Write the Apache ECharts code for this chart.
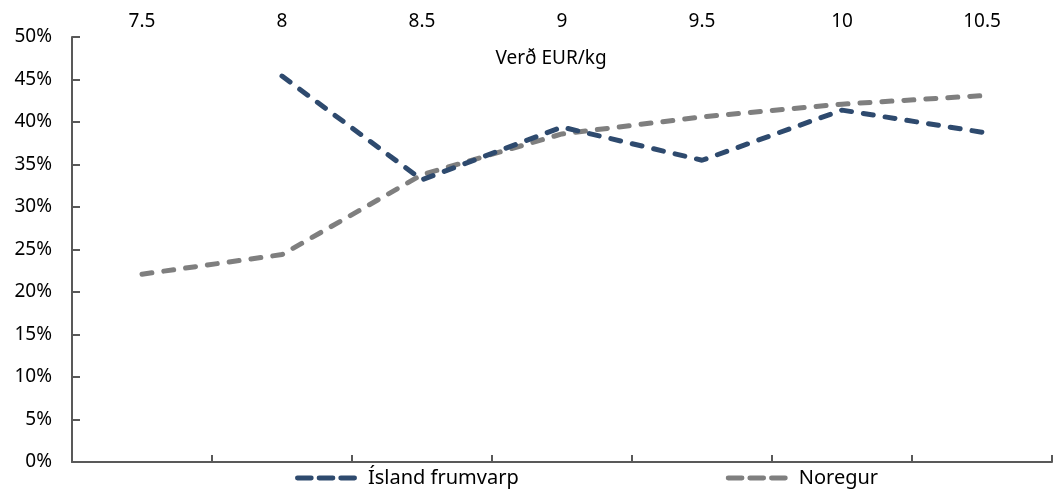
<!DOCTYPE html>
<html>
<head>
<meta charset="utf-8">
<script src="https://cdn.jsdelivr.net/npm/echarts@6/dist/echarts.min.js"></script>
<style>
  html, body { margin: 0; padding: 0; background: #fff; }
  #chart { width: 1057px; height: 489px; }
</style>
</head>
<body>
<div id="chart"></div>
<script>
// verð EUR/kg
const categories = ["7.5", "8", "8.5", "9", "9.5", "10", "10.5"];
// hlutfall í %
const islandValues = [null, 45.4, 33.2, 39.4, 35.5, 41.4, 38.8];
const noregurValues = [22.1, 24.4, 33.8, 38.6, 40.6, 42.1, 43.1];
const yTicks = { min: 0, max: 50, interval: 5 };

const fontFam = "Noto Sans";
const axisColor = "#595959";
// þrjú strik í skýringu
const dashIcon = "path://M2,0H16A2,2 0 0 1 16,5H2A2,2 0 0 1 2,0Z M24,0H38A2,2 0 0 1 38,5H24A2,2 0 0 1 24,0Z M46,0H60A2,2 0 0 1 60,5H46A2,2 0 0 1 46,0Z";

const myChart = echarts.init(document.getElementById("chart"));
myChart.setOption({
  animation: false,
  title: {
    text: "Verð EUR/kg",
    left: 546,
    top: 44,
    textAlign: "center",
    textStyle: { fontFamily: fontFam, fontSize: 19, fontWeight: "normal", color: "#000" },
  },
  legend: {
    bottom: -4,
    left: 290,
    itemGap: 207,
    itemWidth: 62,
    itemHeight: 5,
    textStyle: { fontFamily: fontFam, fontSize: 20, color: "#000", padding: [0, 0, 0, 6] },
    data: [
      { name: "Ísland frumvarp", icon: dashIcon },
      { name: "Noregur", icon: dashIcon },
    ],
  },
  grid: { left: 72, right: 5, top: 37, bottom: 27 },
  xAxis: [
    {
      type: "category",
      position: "bottom",
      data: categories,
      boundaryGap: true,
      axisLabel: { show: false },
      axisLine: { show: true, lineStyle: { color: axisColor, width: 2 } },
      axisTick: { show: true, inside: true, length: 7, lineStyle: { color: axisColor, width: 2 } },
    },
    {
      type: "category",
      position: "top",
      data: categories,
      boundaryGap: true,
      axisLabel: { margin: 6, fontFamily: fontFam, fontSize: 19, color: "#000" },
      axisLine: { show: false },
      axisTick: { show: false },
    },
  ],
  yAxis: {
    type: "value",
    min: yTicks.min,
    max: yTicks.max,
    interval: yTicks.interval,
    axisLabel: { formatter: "{value}%", margin: 20, fontFamily: fontFam, fontSize: 19, color: "#000" },
    axisLine: { show: true, lineStyle: { color: axisColor, width: 2 } },
    axisTick: { show: true, inside: true, length: 8, lineStyle: { color: axisColor, width: 2 } },
    splitLine: { show: false },
  },
  series: [
    {
      name: "Noregur",
      type: "line",
      data: noregurValues,
      symbol: "none",
      color: "#7f7f7f",
      lineStyle: { width: 5, type: [10, 12], cap: "round", color: "#7f7f7f" },
    },
    {
      name: "Ísland frumvarp",
      type: "line",
      data: islandValues,
      symbol: "none",
      color: "#2e4a6e",
      lineStyle: { width: 5, type: [10, 12], cap: "round", color: "#2e4a6e" },
    },
  ],
});
</script>
</body>
</html>
